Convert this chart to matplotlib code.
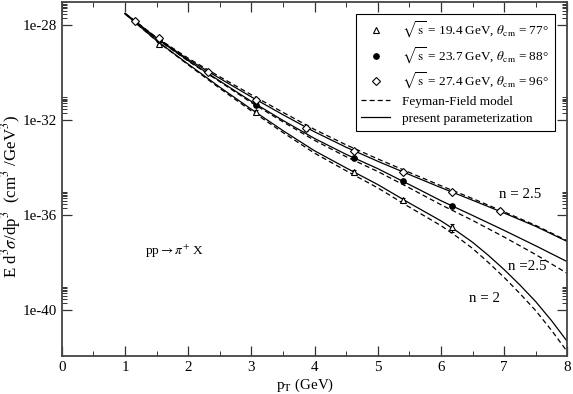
import matplotlib
matplotlib.use("Agg")
import matplotlib.pyplot as plt
import numpy as np
from matplotlib.ticker import FixedLocator, FuncFormatter, MultipleLocator

plt.rcParams['font.family'] = ['Liberation Serif', 'DejaVu Serif']
plt.rcParams['mathtext.fontset'] = 'stix'
plt.rcParams['font.size'] = 10.8

# measured points, p_T in GeV and log10 of the cross section
pt_194 = [1.54, 3.08, 4.63, 5.40, 6.17]
lg_194 = [-28.78, -31.65, -34.20, -35.37, -36.52]
pt_237 = [1.54, 3.08, 4.63, 5.40, 6.17]
lg_237 = [-28.63, -31.37, -33.59, -34.56, -35.62]
pt_274 = [1.16, 1.54, 2.31, 3.08, 3.86, 4.63, 5.40, 6.17, 6.93]
lg_274 = [-27.82, -28.55, -29.98, -31.16, -32.35, -33.29, -34.20, -35.02, -35.82]
relerr_194 = [0.15, 0.15, 0.2, 0.2, 0.35]
relerr_237 = [0.3, 0.15, 0.15, 0.15, 0.2]
relerr_274 = [0.2, 0.2, 0.2, 0.2, 0.2, 0.2, 0.2, 0.2, 0.2]

# curves
pt_curve = [1.0, 1.5, 2.0, 2.5, 3.0, 3.5, 4.0, 4.5, 5.0, 5.5, 6.0, 6.5, 7.0, 7.5, 8.0]
fit_274 = [-27.51, -28.55, -29.45, -30.25, -31.03, -31.78, -32.50, -33.15, -33.74, -34.30, -34.85, -35.38, -35.92, -36.48, -37.12]
ff_274 = [-27.51, -28.53, -29.40, -30.18, -30.94, -31.68, -32.40, -33.05, -33.64, -34.21, -34.77, -35.31, -35.87, -36.44, -37.09]
fit_237 = [-27.52, -28.57, -29.50, -30.36, -31.22, -32.02, -32.78, -33.45, -34.05, -34.72, -35.40, -36.02, -36.65, -37.30, -37.97]
ff_237 = [-27.52, -28.58, -29.52, -30.39, -31.27, -32.08, -32.86, -33.55, -34.17, -34.86, -35.57, -36.23, -36.93, -37.67, -38.46]
pt_curve_194 = [1.0, 1.5, 2.0, 2.5, 3.0, 3.5, 4.0, 4.5, 5.0, 5.5, 6.0, 6.25, 6.5, 6.75, 7.0, 7.25, 7.5, 7.75, 8.0]
fit_194 = [-27.53, -28.66, -29.65, -30.62, -31.55, -32.45, -33.30, -34.02, -34.72, -35.50, -36.25,
           -36.68, -37.15, -37.70, -38.30, -38.95, -39.65, -40.45, -41.33]
ff_194 = [-27.53, -28.67, -29.68, -30.67, -31.62, -32.53, -33.40, -34.14, -34.86, -35.67, -36.45,
          -36.91, -37.41, -38.00, -38.63, -39.31, -40.03, -40.86, -41.76]

labels = [r'$\sqrt{\,\mathrm{s}}$ = 19.4 GeV, $\theta_{\mathrm{cm}}$ = 77°',
          r'$\sqrt{\,\mathrm{s}}$ = 23.7 GeV, $\theta_{\mathrm{cm}}$ = 88°',
          r'$\sqrt{\,\mathrm{s}}$ = 27.4 GeV, $\theta_{\mathrm{cm}}$ = 96°']

fig = plt.figure(figsize=(5.73, 3.94), dpi=100)
ax = fig.add_axes([0.108, 0.096, 0.882, 0.899])

dash = (0, (4, 2.5))
for px, solid, dashed in [(pt_curve, fit_274, ff_274), (pt_curve, fit_237, ff_237),
                          (pt_curve_194, fit_194, ff_194)]:
    ax.plot(px, 10.0 ** np.array(solid), color='black', lw=0.9)
    ax.plot(px, 10.0 ** np.array(dashed), color='black', lw=0.9, ls=dash)

handles = []
def points(px, lg, err, marker, fc, ms, label):
    y = 10.0 ** np.array(lg)
    e = y * np.array(err)
    ax.errorbar(px, y, yerr=e, fmt=marker, mfc=fc, mec='black', ecolor='black',
                ms=ms, mew=0.8, elinewidth=0.8, capsize=1.3, capthick=0.8)
    h, = ax.plot([], [], ls='none', marker=marker, mfc=fc, mec='black', ms=ms, mew=0.8, label=label)
    handles.append(h)

points(pt_194, lg_194, relerr_194, '^', 'white', 4.3, labels[0])
points(pt_237, lg_237, relerr_237, 'o', 'black', 4.0, labels[1])
points(pt_274, lg_274, relerr_274, 'D', 'white', 3.6, labels[2])
h, = ax.plot([], [], color='black', lw=0.9, ls=dash, label='Feyman-Field model')
handles.append(h)
h, = ax.plot([], [], color='black', lw=0.9, label='present parameterization')
handles.append(h)

ax.set_yscale('log')
ax.set_xlim(0, 8)
ax.set_ylim(10.0 ** -41.95, 10.0 ** -27.03)
ax.xaxis.set_major_locator(MultipleLocator(1))
ax.xaxis.set_minor_locator(MultipleLocator(0.5))
majors = [1e-28, 1e-32, 1e-36, 1e-40]
ax.yaxis.set_major_locator(FixedLocator(majors))
ax.yaxis.set_major_formatter(FuncFormatter(lambda v, p: '1e%d' % round(np.log10(v))))
minors = [k * m for m in majors for k in range(2, 10)]
ax.yaxis.set_minor_locator(FixedLocator(minors))
ax.yaxis.set_minor_formatter(FuncFormatter(lambda v, p: ''))
ax.tick_params(which='both', direction='in', top=True, right=True, color='#333333')
ax.tick_params(which='major', length=7, width=0.9)
ax.tick_params(which='minor', length=3.5, width=0.7)
for s in ax.spines.values():
    s.set_color('#444444')
    s.set_linewidth(1.3)

ax.set_xlabel(r'p$_{\mathrm{T}}$ (GeV)')
ax.xaxis.set_label_coords(0.481, -0.058)
ax.set_ylabel(r'E d$^3\sigma$/dp$^3$  (cm$^3$ /GeV$^3$)', fontsize=12.2)
ax.yaxis.set_label_coords(-0.077, 0.45)

ax.text(7.25, 10 ** -35.12, 'n = 2.5', ha='center', va='center')
ax.text(7.37, 10 ** -38.18, 'n =2.5', ha='center', va='center')
ax.text(6.69, 10 ** -39.51, 'n = 2', ha='center', va='center')
ax.text(1.79, 10 ** -37.54, r'pp$\rightarrow\pi^{+}$ X', ha='center', va='center', fontsize=9.6)

leg = ax.legend(handles=handles, loc='upper right', bbox_to_anchor=(0.976, 0.966), fancybox=False,
                edgecolor='black', framealpha=1, handlelength=2.2, handletextpad=0.9,
                borderpad=0.45, labelspacing=0.36, borderaxespad=0, fontsize=9.5)
leg.get_frame().set_linewidth(0.8)

fig.savefig('out.png', dpi=100)
